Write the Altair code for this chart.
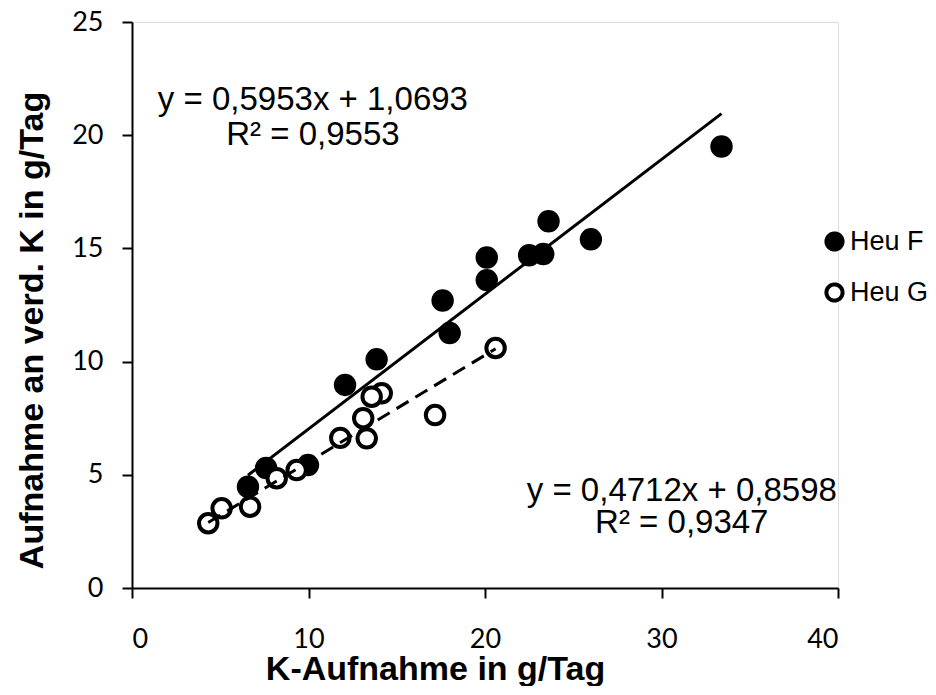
import altair as alt
import pandas as pd

# ---- data ----
series_names = ["Heu F", "Heu G"]
heu_f_x = [33.4, 26.0, 23.6, 23.3, 22.5, 20.1, 20.1, 17.6, 18.0, 13.86, 12.07, 9.97, 7.6, 6.57]
heu_f_y = [19.5, 15.4, 16.2, 14.75, 14.7, 14.6, 13.6, 12.7, 11.26, 10.1, 8.97, 5.43, 5.3, 4.47]
heu_g_x = [20.6, 17.17, 14.15, 13.58, 13.1, 13.3, 11.8, 9.33, 8.2, 6.69, 5.08, 4.32]
heu_g_y = [10.6, 7.64, 8.6, 8.45, 7.5, 6.61, 6.63, 5.21, 4.85, 3.59, 3.52, 2.86]
slopes = [0.5953, 0.4712]
intercepts = [1.0693, 0.8598]
eq_texts = ["y = 0,5953x + 1,0693", "y = 0,4712x + 0,8598"]
r2_texts = ["R² = 0,9553", "R² = 0,9347"]
x_ticks = [0, 10, 20, 30, 40]
y_ticks = [0, 5, 10, 15, 20, 25]

# annotation anchor positions (data units)
eq_pos_x = [10.25, 31.15]
eq_pos_y = [21.55, 4.3]
r2_pos_y = [20.0, 2.85]

pts = pd.DataFrame({
    "x": heu_f_x + heu_g_x,
    "y": heu_f_y + heu_g_y,
    "series": [series_names[0]] * len(heu_f_x) + [series_names[1]] * len(heu_g_x),
})

line_rows = []
for name, xs, m, b in zip(series_names, [heu_f_x, heu_g_x], slopes, intercepts):
    for xv in (min(xs), max(xs)):
        line_rows.append({"x": xv, "y": m * xv + b, "trend": name})
lines_df = pd.DataFrame(line_rows)

ann_rows = []
for i in range(2):
    ann_rows.append({"x": eq_pos_x[i], "y": eq_pos_y[i], "t": eq_texts[i]})
    ann_rows.append({"x": eq_pos_x[i], "y": r2_pos_y[i], "t": r2_texts[i]})
ann_df = pd.DataFrame(ann_rows)

xscale = alt.Scale(domain=[0, 40], nice=False, zero=False)
yscale = alt.Scale(domain=[0, 25], nice=False, zero=False)

xaxis = alt.Axis(
    values=x_ticks, title="K-Aufnahme in g/Tag", grid=False,
    domainColor="black", domainWidth=2, tickColor="black", tickWidth=2, tickSize=10,
    labelFont="Lato", labelFontSize=27, labelColor="black", labelPadding=28,
    titleFont="Liberation Sans", titleFontSize=34, titleFontWeight="bold", titleColor="black",
    titleX=303, titleY=91, titleAlign="center", titleBaseline="alphabetic",
)
yaxis = alt.Axis(
    values=y_ticks, title="Aufnahme an verd. K in g/Tag", grid=False,
    domainColor="black", domainWidth=2, tickColor="black", tickWidth=2, tickSize=10,
    labelFont="Lato", labelFontSize=27, labelColor="black", labelPadding=19,
    titleFont="Liberation Sans", titleFontSize=34, titleFontWeight="bold", titleColor="black",
    titleX=-90, titleY=308, titleAngle=270, titleAlign="center", titleBaseline="alphabetic",
)

points = alt.Chart(pts).mark_point(
    shape="circle", size=340, strokeWidth=4, stroke="black", opacity=1, fillOpacity=1
).encode(
    x=alt.X("x:Q", scale=xscale, axis=xaxis),
    y=alt.Y("y:Q", scale=yscale, axis=yaxis),
    fill=alt.Fill(
        "series:N",
        scale=alt.Scale(domain=series_names, range=["black", "white"]),
        legend=alt.Legend(
            title=None, orient="none", legendX=689, legendY=206,
            symbolType="circle", symbolSize=260, symbolStrokeWidth=4,
            symbolStrokeColor="black", symbolDash=[1, 0],
            labelFont="Liberation Sans", labelFontSize=27, labelColor="black",
            labelOffset=2, rowPadding=18, padding=0,
        ),
    ),
    order=alt.Order("series:N", sort="ascending"),
)

solid_line = alt.Chart(lines_df).transform_filter(
    alt.datum.trend == series_names[0]
).mark_line(color="black", strokeWidth=3).encode(
    x=alt.X("x:Q", scale=xscale),
    y=alt.Y("y:Q", scale=yscale),
)

dashed_line = alt.Chart(lines_df).transform_filter(
    alt.datum.trend == series_names[1]
).mark_line(color="black", strokeWidth=3, strokeDash=[14, 8]).encode(
    x=alt.X("x:Q", scale=xscale),
    y=alt.Y("y:Q", scale=yscale),
)

texts = alt.Chart(ann_df).mark_text(
    font="Liberation Sans", fontSize=33, color="black", align="center", baseline="middle"
).encode(
    x=alt.X("x:Q", scale=xscale),
    y=alt.Y("y:Q", scale=yscale),
    text="t:N",
)

chart = alt.layer(points, solid_line, dashed_line, texts).properties(
    width=706, height=566,
    autosize=alt.AutoSizeParams(type="none"),
    padding={"left": 124, "top": 14, "right": 90, "bottom": 98},
).configure_view(stroke=None).configure(background="white")

chart.save("out.html", embed_options={"renderer": "svg", "actions": False})
